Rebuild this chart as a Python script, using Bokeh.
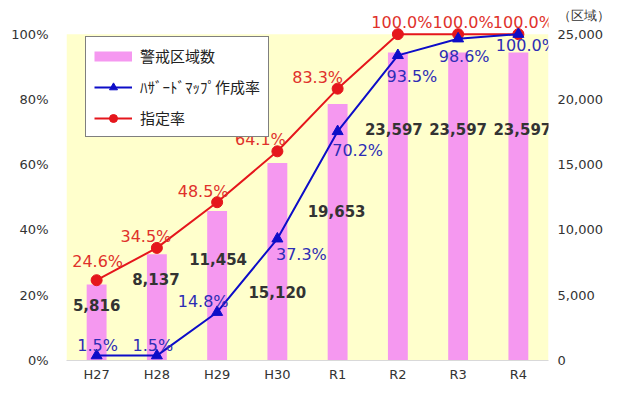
from bokeh.plotting import figure
from bokeh.models import (ColumnDataSource, Range1d, LinearAxis, FixedTicker,
                          NumeralTickFormatter, PrintfTickFormatter, Legend,
                          LegendItem, LabelSet, FactorRange, BoxAnnotation)
from bokeh.core.properties import value
from bokeh.embed import file_html
from bokeh.resources import INLINE

# ---- data ----
years = ["H27", "H28", "H29", "H30", "R1", "R2", "R3", "R4"]
warning_areas = [5816, 8137, 11454, 15120, 19653, 23597, 23597, 23597]
designation_rate = [24.6, 34.5, 48.5, 64.1, 83.3, 100.0, 100.0, 100.0]
hazard_map_rate = [1.5, 1.5, 14.8, 37.3, 70.2, 93.5, 98.6, 100.0]
pct_ticks = [0, 20, 40, 60, 80, 100]
count_ticks = [0, 5000, 10000, 15000, 20000, 25000]
count_unit = "（区域）"
legend_names = ["警戒区域数", "ﾊｻﾞｰﾄﾞﾏｯﾌﾟ作成率", "指定率"]

# ---- label placement (screen px offsets, +right / +up) ----
red_dx = [1, -11, -14, -17, -20, 4, 5, 5]
red_dy = [19, 11, 11, 12, 11, 12, 12, 12]
blue_dx = [1, -4, -14, 24, 20, 14, 6, 8]
blue_dy = [10, 10, 11, -16, -19, -21, -18, -11]
bar_dx = [0, -1, 1, 0, -1, -4, 0, 4]
bar_dy = [-20, -25, -48, -129, -107, -77, -77, -77]

# ---- layout (px) ----
W, H = 612, 384
FL, FR, FT, FB = 66, 58, 2, 20
FW, FH = W - FL - FR, H - FT - FB
PX_FULL = 330          # pixel height of the 0..100% span
UNIT_Y = 15            # canvas y of the "(区域)" caption
scale_top = FH / PX_FULL
unit_tick = round(count_ticks[-1] * (FT + FH - UNIT_Y) / PX_FULL)

FONT = "DejaVu Sans"
RED = "#E5161C"
RED_TXT = "#E0312B"
BLUE = "#0D0DC8"
BLUE_TXT = "#2D2DB5"
PINK = "#F598F0"
YELLOW = "#FFFFCC"

p = figure(width=W, height=H, x_range=FactorRange(*years),
           y_range=Range1d(0, pct_ticks[-1] * scale_top),
           output_backend="svg", toolbar_location=None,
           min_border_left=FL, min_border_right=FR, min_border_top=FT, min_border_bottom=FB)
p.extra_y_ranges = {"count": Range1d(0, count_ticks[-1] * scale_top)}
p.background_fill_color = "white"
p.border_fill_color = "white"
p.outline_line_color = None
p.grid.visible = False

# plot-area background (0..100%)
p.add_layout(BoxAnnotation(bottom=0, top=pct_ticks[-1], fill_color=YELLOW, fill_alpha=1.0,
                           line_color=None, level="underlay"))

la = p.yaxis[0]
la.ticker = FixedTicker(ticks=pct_ticks)
la.formatter = PrintfTickFormatter(format="%d%%")
ra = LinearAxis(y_range_name="count", ticker=FixedTicker(ticks=count_ticks + [unit_tick]),
                formatter=NumeralTickFormatter(format="0,0"))
ra.major_label_overrides = {unit_tick: count_unit}
p.add_layout(ra, "right")
xa = p.xaxis[0]
for ax in (la, ra, xa):
    ax.axis_line_color = None
    ax.major_tick_line_color = None
    ax.minor_tick_line_color = None
    ax.major_tick_out = 0
    ax.major_tick_in = 0
    ax.minor_tick_out = 0
    ax.major_label_text_font = FONT
    ax.major_label_text_font_size = "13px"
    ax.major_label_text_color = "#333333"
la.major_label_standoff = 18
ra.major_label_standoff = 9
xa.axis_line_color = "#D9D9D9"
xa.major_label_standoff = 6

src = ColumnDataSource(dict(
    x=years, n=warning_areas, r=designation_rate, b=hazard_map_rate,
    n_txt=[f"{v:,}" for v in warning_areas],
    r_txt=[f"{v:.1f}%" for v in designation_rate],
    b_txt=[f"{v:.1f}%" for v in hazard_map_rate],
    rdx=red_dx, rdy=red_dy, bdx=blue_dx, bdy=blue_dy, ndx=bar_dx, ndy=bar_dy,
))

bars = p.vbar(x="x", top="n", width=0.33, y_range_name="count", source=src,
              fill_color=PINK, line_color=None)
# legend swatch only (no drawable data)
bar_key = p.line(x=[years[0]], y=[float("nan")], line_color=PINK, line_width=10)
rline = p.line(x="x", y="r", source=src, line_color=RED, line_width=2)
rmark = p.scatter(x="x", y="r", source=src, marker="circle", size=11,
                  fill_color=RED, line_color=RED)
bline = p.line(x="x", y="b", source=src, line_color=BLUE, line_width=2)
bmark = p.scatter(x="x", y="b", source=src, marker="triangle", size=11,
                  fill_color=BLUE, line_color=BLUE)

p.add_layout(LabelSet(x="x", y="n", text="n_txt", source=src, y_range_name="count",
                      x_offset="ndx", y_offset="ndy", text_align="center",
                      text_baseline="middle", text_font=value(FONT),
                      text_font_size="15px", text_font_style="bold",
                      text_color="#333333"))
p.add_layout(LabelSet(x="x", y="r", text="r_txt", source=src,
                      x_offset="rdx", y_offset="rdy", text_align="center",
                      text_baseline="middle", text_font=value(FONT),
                      text_font_size="16px", text_color=RED_TXT))
p.add_layout(LabelSet(x="x", y="b", text="b_txt", source=src,
                      x_offset="bdx", y_offset="bdy", text_align="center",
                      text_baseline="middle", text_font=value(FONT),
                      text_font_size="16px", text_color=BLUE_TXT))

LEG_H = 100
legend = Legend(items=[
    LegendItem(label=legend_names[0], renderers=[bar_key]),
    LegendItem(label=legend_names[1], renderers=[bline, bmark]),
    LegendItem(label=legend_names[2], renderers=[rline, rmark]),
], location=(19, FH - 39 - LEG_H))
legend.label_text_font = "Noto Sans CJK JP"
legend.label_text_font_size = "15px"
legend.label_text_color = "#222222"
legend.glyph_width = 38
legend.glyph_height = 20
legend.label_height = 20
legend.spacing = 10
legend.padding = 8
legend.label_standoff = 8
legend.margin = 0
legend.border_line_color = "black"
legend.border_line_width = 1.5
legend.background_fill_color = "white"
legend.background_fill_alpha = 1.0
p.add_layout(legend)

open("out.html", "w").write(file_html(p, INLINE))
